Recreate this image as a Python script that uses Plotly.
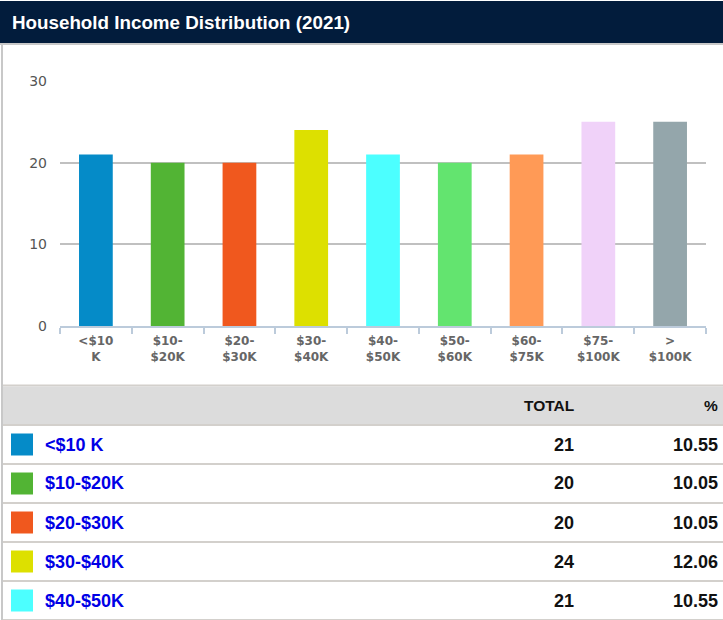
import plotly.graph_objects as go

W, H = 723, 620

title_text = "Household Income Distribution (2021)"
categories = ["<$10 K", "$10-$20K", "$20-$30K", "$30-$40K", "$40-$50K",
              "$50-$60K", "$60-$75K", "$75-$100K", "> $100K"]
tick_labels = ["<$10<br>K", "$10-<br>$20K", "$20-<br>$30K", "$30-<br>$40K",
               "$40-<br>$50K", "$50-<br>$60K", "$60-<br>$75K", "$75-<br>$100K",
               "><br>$100K"]
totals = [21, 20, 20, 24, 21, 20, 21, 25, 25]
percents = [10.55, 10.05, 10.05, 12.06, 10.55]   # rows visible in the table
colors = ["#058bc8", "#52b434", "#f0581e", "#dde000", "#4cffff",
          "#63e46f", "#ff9a56", "#f0d2f9", "#94a6ab"]
y_ticks = [0, 10, 20, 30]
table_header = ["TOTAL", "%"]


def fx(px):
    return px / W


def fy(py):
    return 1 - py / H


fig = go.Figure()
fig.add_trace(go.Bar(
    x=categories, y=totals, marker=dict(color=colors, line=dict(width=0)),
    width=0.47, hoverinfo="skip", showlegend=False,
))

shapes = []


def rect(x0, y0, x1, y1, color, layer="below"):
    shapes.append(dict(type="rect", xref="paper", yref="paper",
                       x0=fx(x0), x1=fx(x1), y0=fy(y1), y1=fy(y0),
                       fillcolor=color, line=dict(width=0), layer=layer))


SEP = "#d3d0cc"
# title bar
rect(0, 1, W, 43, "#021c3c")
rect(0, 43, W, 45, "#c8c8c8")
# left border
rect(1, 45, 3, H, "#c8c8c8")
# table
rect(3, 384.5, W, 386.5, SEP)
rect(3, 386.5, W, 424, "#dcdcdc")
rect(3, 424, W, 426, SEP)

annotations = []
annotations.append(dict(text=title_text, x=fx(10), y=fy(22), xref="paper", yref="paper",
                        xanchor="left", yanchor="middle", showarrow=False,
                        font=dict(family="Liberation Sans", size=18.8, color="white", weight="bold")))
annotations.append(dict(text=table_header[0], x=fx(576), y=fy(405), xref="paper", yref="paper",
                        xanchor="right", yanchor="middle", showarrow=False,
                        font=dict(family="Liberation Sans", size=15.5, color="#111", weight="bold")))
annotations.append(dict(text=table_header[1], x=fx(720), y=fy(405), xref="paper", yref="paper",
                        xanchor="right", yanchor="middle", showarrow=False,
                        font=dict(family="Liberation Sans", size=15.5, color="#111", weight="bold")))

ROW_H = 39
for i, pct in enumerate(percents):
    top = 426 + i * ROW_H
    bot = top + ROW_H - 2
    cy = (top + bot) / 2
    rect(3, bot, W, bot + 2, SEP)
    rect(11, cy - 11, 33, cy + 11, colors[i], layer="above")
    annotations.append(dict(text=categories[i], x=fx(43), y=fy(cy), xref="paper", yref="paper",
                            xanchor="left", yanchor="middle", showarrow=False,
                            font=dict(family="Liberation Sans", size=18, color="#0000e6", weight="bold")))
    annotations.append(dict(text=str(totals[i]), x=fx(576), y=fy(cy), xref="paper", yref="paper",
                            xanchor="right", yanchor="middle", showarrow=False,
                            font=dict(family="Liberation Sans", size=18, color="#111", weight="bold")))
    annotations.append(dict(text=f"{pct:.2f}", x=fx(720), y=fy(cy), xref="paper", yref="paper",
                            xanchor="right", yanchor="middle", showarrow=False,
                            font=dict(family="Liberation Sans", size=18, color="#111", weight="bold")))

fig.update_layout(
    width=W, height=H, autosize=False,
    margin=dict(l=0, r=0, t=0, b=0, pad=0),
    paper_bgcolor="white", plot_bgcolor="white",
    shapes=shapes, annotations=annotations,
    xaxis=dict(
        domain=[fx(60), fx(706)], type="category", automargin=False,
        tickvals=categories, ticktext=tick_labels,
        tickson="boundaries", ticks="outside", ticklen=6, tickwidth=2, tickcolor="#bccbdb",
        showline=True, linecolor="#bccbdb", linewidth=2, showgrid=False, zeroline=False,
        ticklabelstandoff=3,
        tickfont=dict(family="DejaVu Sans", size=12, color="#666", weight="bold"),
        fixedrange=True,
    ),
    yaxis=dict(
        domain=[fy(326), fy(81)], range=[0, 30], automargin=False,
        tickvals=y_ticks, showgrid=True, gridcolor="#c0c0c0", gridwidth=2,
        showline=False, zeroline=False, ticks="", ticklabelstandoff=12,
        tickfont=dict(family="DejaVu Sans", size=14, color="#555"),
        fixedrange=True,
    ),
)

fig.write_html("out.html", config={"displayModeBar": False},
               post_script="document.body.style.margin='0';")
